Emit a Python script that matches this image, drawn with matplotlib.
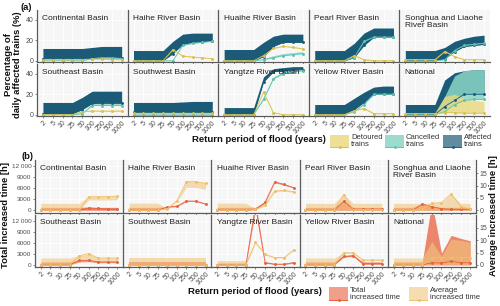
import matplotlib
matplotlib.use("Agg")
import matplotlib.pyplot as plt
import numpy as np

plt.rcParams["font.family"] = ["Liberation Sans", "DejaVu Sans"]

PERIODS = ["2", "5", "10", "25", "50", "100", "250", "500", "1000"]
BASINS = ["Continental Basin", "Haihe River Basin", "Huaihe River Basin",
          "Pearl River Basin", "Songhua and Liaohe\nRiver Basin",
          "Southeast Basin", "Southwest Basin", "Yangtze River Basin",
          "Yellow River Basin", "National"]

# (a) percentage of daily trains; line = lower edge of each band, *_HI = upper edge
AFF = [[2, 2, 2, 2, 2, 2.5, 3, 3, 3],
       [0, 0, 0, 0, 7, 16, 18, 18.5, 19.5],
       [0, 0, 0, 0, 4, 14, 18, 18, 18],
       [0, 0, 0, 0, 3, 15, 23, 23, 23],
       [0, 0, 0, 0, 2, 9, 14, 15, 16],
       [1, 1, 1, 1, 5, 11, 11, 11, 11],
       [3, 3, 3, 3, 3, 3, 3, 3, 3],
       [0, 0, 0, 0, 32, 42, 43, 44, 44],
       [0, 0, 0, 0, 5, 12, 20, 20, 20],
       [0, 0, 0, 0, 8, 14, 20, 20, 20]]
AFF_HI = [[12, 12, 12, 12, 12, 13, 14, 14, 14],
          [10, 10, 10, 10, 19, 26, 27, 27, 27],
          [11, 11, 11, 11, 18, 24, 26, 26, 26],
          [10, 10, 10, 10, 17, 27, 32, 32, 32],
          [10, 10, 10, 10, 13, 19, 22, 24, 25],
          [12, 12, 12, 12, 17, 23, 23, 23, 23],
          [12, 12, 12, 12, 12, 12.5, 13, 13, 13],
          [7, 7, 7, 7, 37, 45, 46, 47, 47],
          [10, 10, 10, 10, 16, 22, 27, 28, 28],
          [10, 10, 10, 10, 34, 41, 43, 44, 44]]
CAN = [[0, 0, 0, 0, 0, 2, 3, 3, 2],
       [0, 0, 0, 0, 0, 15, 17, 18, 19],
       [0, 0, 0, 0, 1, 3, 5, 6, 7],
       [0, 0, 0, 0, 3, 19, 23, 23, 23],
       [0, 0, 0, 0, 1, 10, 15, 16, 17],
       [0, 0, 0, 0, 1, 9, 9, 9, 9],
       [0, 0, 0, 0, 0, 0, 0, 0, 0],
       [0, 0, 0, 0, 15, 35, 40, 42, 43],
       [0, 0, 0, 0, 3, 10, 20, 20, 20],
       [0, 0, 0, 0, 3, 10, 14, 15, 15]]
CAN_HI = [[0, 0, 0, 0, 0.5, 3, 4, 4, 3.5],
          [0, 0, 0, 0, 0.5, 16, 18, 19, 20],
          [0, 0, 0, 0, 2, 5, 7, 8, 9],
          [0, 0, 0, 0, 4, 20, 24, 24, 24],
          [0, 0, 0, 0, 2, 11, 16, 17, 18],
          [0, 0, 0, 0, 2, 11, 12, 12, 12],
          [0.5, 0.5, 0.5, 0.5, 0.5, 0.5, 0.5, 0.5, 0.5],
          [0, 0, 0, 0, 17, 37, 42, 44, 45],
          [0, 0, 0, 0, 4, 11, 21, 21, 21],
          [0, 0, 0, 0, 18, 38, 43, 44, 44]]
DET = [[1, 1, 1, 1, 1, 1.5, 1.5, 1, 1],
       [0, 0, 0, 0, 11, 4.5, 3.5, 2.8, 2],
       [0, 0, 0, 0, 5, 12, 14, 13, 11.5],
       [0, 0, 0, 0, 5, 1, 0, 0, 0],
       [1, 1, 1, 1, 9, 4, 1, 1, 1],
       [0, 0, 0, 0, 3, 3.5, 3.5, 3.5, 3.5],
       [1.5, 1.5, 1.5, 1.5, 1.5, 1.5, 1.5, 1.5, 1.5],
       [0, 0, 0, 0, 22, 2, 0, 0, 0],
       [0, 0, 0, 0, 4, 6, 1, 1, 1],
       [1, 1, 1, 1, 2, 2, 1.5, 1.5, 1.5]]
DET_HI = [[2.5, 2.5, 2.5, 2.5, 2.5, 3, 3, 2.5, 2.5],
          [0.5, 0.5, 0.5, 0.5, 12, 5.5, 4.5, 3.5, 2.5],
          [0.5, 0.5, 0.5, 0.5, 6, 13, 15, 14, 12.5],
          [1, 1, 1, 1, 6, 2, 1, 1, 1],
          [2, 2, 2, 2, 10, 5, 2, 2, 2],
          [0.5, 0.5, 0.5, 0.5, 4, 4.5, 4.5, 4.5, 4.5],
          [3, 3, 3, 3, 3, 3, 3, 3, 3],
          [0.5, 0.5, 0.5, 0.5, 23, 3, 0.5, 0.5, 0.5],
          [0.5, 0.5, 0.5, 0.5, 5, 7, 2, 2, 2],
          [2, 2, 2, 2, 18, 20, 16, 14, 13]]

# (b) total increased time [h] (left axis) and average increased time [h] (right axis)
TOT = [[0, 0, 0, 0, 0, 600, 500, 300, 300],
       [0, 0, 0, 0, 900, 1100, 2500, 2500, 1700],
       [0, 0, 0, 0, 300, 2150, 7700, 7000, 6100],
       [0, 0, 0, 0, 2500, 300, 300, 300, 300],
       [0, 0, 0, 1700, 970, 430, 260, 260, 260],
       [0, 0, 0, 0, 1200, 1250, 800, 800, 800],
       [0, 0, 0, 0, 0, 0, 0, 0, 0],
       [0, 0, 0, 0, 16000, 640, 200, 200, 640],
       [0, 0, 0, 0, 2300, 2500, 300, 300, 300],
       [0, 0, 0, 0, 600, 500, 1000, 600, 600]]
TOT_LO = [[0, 0, 0, 0, 0, 0, 0, 0, 0],
          [0, 0, 0, 0, 800, 1000, 2400, 2400, 1600],
          [0, 0, 0, 0, 200, 2000, 7500, 6800, 6000],
          [0, 0, 0, 0, 0, 0, 0, 0, 0],
          [0, 0, 0, 0, 0, 0, 0, 0, 0],
          [0, 0, 0, 0, 800, 900, 600, 600, 600],
          [0, 0, 0, 0, 0, 0, 0, 0, 0],
          [0, 0, 0, 0, 15000, 500, 100, 100, 500],
          [0, 0, 0, 0, 2100, 2300, 200, 200, 200],
          [0, 0, 0, 0, 0, 0, 0, 0, 0]]
TOT_HI = [[800, 800, 800, 800, 800, 900, 800, 800, 800],
          [800, 800, 800, 800, 1000, 1200, 2600, 2600, 1800],
          [800, 800, 800, 800, 800, 2300, 7800, 7100, 6200],
          [800, 800, 800, 800, 2600, 800, 800, 800, 800],
          [800, 800, 800, 1800, 1100, 800, 800, 800, 800],
          [800, 800, 800, 800, 1400, 1400, 900, 900, 900],
          [800, 800, 800, 800, 800, 800, 800, 800, 800],
          [500, 500, 500, 500, 17000, 800, 300, 300, 800],
          [800, 800, 800, 800, 2500, 2700, 800, 800, 800],
          [800, 800, 800, 800, 17000, 3200, 8000, 7200, 6500]]
AVG = [[0, 0, 0, 0, 0, 5.5, 5.5, 5.6, 5.7],
       [0, 0, 0, 0, 0.6, 3.9, 11.6, 11.6, 10.9],
       [0, 0, 0, 0, 0.4, 2.1, 7.8, 8.1, 7.5],
       [0, 0, 0, 0, 6.4, 0.3, 0.3, 0.3, 0.3],
       [0, 0, 0, 0.5, 2.9, 3.1, 6.7, 1.5, 0.5],
       [0, 0, 0, 0, 3.7, 4.6, 2.8, 2.8, 2.8],
       [0, 0, 0, 0, 0, 0, 0, 0, 0],
       [0, 0, 0, 0, 9.1, 4.3, 3, 3, 6.2],
       [0, 0, 0, 0, 4.9, 4.9, 2, 2, 2],
       [0, 0, 0, 0, 3, 3, 3, 3, 3]]
AVG_LO = [[0, 0, 0, 0, 0, 4.2, 4.2, 4.2, 4.3],
          [0, 0, 0, 0, 0.3, 3.6, 9.3, 9.2, 8.5],
          [0, 0, 0, 0, 0.2, 1.9, 7.5, 7.8, 7.2],
          [0, 0, 0, 0, 0, 0, 0, 0, 0],
          [0, 0, 0, 0, 0, 0, 0, 0, 0],
          [0, 0, 0, 0, 1.5, 1.6, 1.2, 1.2, 1.2],
          [0, 0, 0, 0, 0, 0, 0, 0, 0],
          [0, 0, 0, 0, 8.8, 4, 2.8, 2.8, 6],
          [0, 0, 0, 0, 4.6, 4.6, 1.8, 1.8, 1.8],
          [0, 0, 0, 0, 0, 0, 0, 0, 0]]
AVG_HI = [[2.8, 2.8, 2.8, 2.8, 2.8, 5.6, 5.6, 5.7, 5.8],
          [2.9, 2.9, 2.9, 2.9, 0.8, 4.1, 11.8, 11.8, 11.2],
          [2.9, 2.9, 2.9, 2.9, 0.6, 2.3, 8, 8.3, 7.7],
          [2.8, 2.8, 2.8, 2.8, 6.4, 2.8, 2.8, 2.8, 2.8],
          [2.8, 2.8, 2.8, 2.8, 2.9, 3.1, 6.7, 2.8, 2.8],
          [2.8, 2.8, 2.8, 2.8, 3.7, 4.6, 2.8, 2.8, 2.8],
          [3, 3, 3, 3, 3, 3, 3, 3, 3],
          [1.8, 1.8, 1.8, 1.8, 9.3, 4.5, 3.2, 3.2, 6.4],
          [2.8, 2.8, 2.8, 2.8, 5, 5, 2.2, 2.2, 2.2],
          [2.8, 2.8, 2.8, 2.8, 9.5, 3.5, 10.5, 10, 9.2]]

K = 2000 / 3   # total hours per average hour (secondary axis)

C_DET, L_DET = "#e9d97c", "#d9c14c"
C_CAN, L_CAN = "#8ad6c7", "#5fc2ae"
C_AFF, L_AFF = "#1c5b78", "#1c5b78"
C_TOT, L_TOT = "#e8603c", "#e8603c"
C_AVG, L_AVG = "#f1c77e", "#efc06a"
TICK = dict(length=1.5, width=0.5, color="#5a5a5a", labelsize=5.0,
            labelcolor="#4d4d4d", pad=1)


def style(ax):
    ax.set_facecolor("#f6f6f6")
    ax.grid(color="white", lw=0.6)
    ax.set_axisbelow(True)
    for s in ("top", "right"):
        ax.spines[s].set_visible(False)
    for s in ("left", "bottom"):
        ax.spines[s].set_color("#5a5a5a")
        ax.spines[s].set_linewidth(0.9)
    ax.tick_params(**TICK)
    ax.set_xlim(-0.6, 8.6)
    ax.set_xticks(range(9))


def band(ax, x, lo, hi, line, fc, lc, alpha):
    ax.fill_between(x, lo, hi, color=fc, alpha=alpha, lw=0)
    ax.plot(x, line, color=lc, lw=0.6, marker="o", ms=1.1)


def xticks(ax, row):
    if row == 0:
        ax.tick_params(labelbottom=False)
    else:
        ax.set_xticklabels(PERIODS, rotation=45, ha="right", rotation_mode="anchor")


def title(ax, name):
    ax.text(0.06, 0.91, name, transform=ax.transAxes, va="top", ha="left",
            fontsize=6.0, color="#222222", linespacing=1.0)


def key(fig, rect, fc, lc, alpha):
    k = fig.add_axes(rect)
    k.set_xlim(0, 1); k.set_ylim(0, 1); k.axis("off")
    k.fill_between([0, 1], 0.12, 1, color=fc, alpha=alpha, lw=0)
    k.plot([0, 1], [0.12, 0.12], color=lc, lw=0.7)
    k.plot([0.5], [0.12], color=lc, marker="o", ms=1.1)


fig = plt.figure(figsize=(5, 3.06), dpi=100)
x = np.arange(9)

gsa = fig.add_gridspec(2, 5, left=0.074, right=0.98, top=0.967, bottom=0.621,
                       wspace=0, hspace=0.04)
for i, name in enumerate(BASINS):
    r, c = divmod(i, 5)
    ax = fig.add_subplot(gsa[r, c])
    style(ax)
    band(ax, x, AFF[i], AFF_HI[i], AFF[i], C_AFF, L_AFF, 1.0)
    band(ax, x, CAN[i], CAN_HI[i], CAN[i], C_CAN, L_CAN, 0.85)
    band(ax, x, DET[i], DET_HI[i], DET[i], C_DET, L_DET, 0.8)
    ax.set_ylim(-1.2, 49.5)
    ax.set_yticks([0, 20, 40])
    if c:
        ax.tick_params(labelleft=False, left=False)
    xticks(ax, r)
    title(ax, name)

gsb = fig.add_gridspec(2, 5, left=0.07, right=0.952, top=0.477, bottom=0.127,
                       wspace=0, hspace=0.04)
for i, name in enumerate(BASINS):
    r, c = divmod(i, 5)
    ax = fig.add_subplot(gsb[r, c])
    style(ax)
    band(ax, x, TOT_LO[i], TOT_HI[i], TOT[i], C_TOT, L_TOT, 0.75)
    band(ax, x, np.array(AVG_LO[i]) * K, np.array(AVG_HI[i]) * K,
         np.array(AVG[i]) * K, C_AVG, L_AVG, 0.6)
    ax.set_ylim(-600, 13600)
    ax.set_yticks([0, 3000, 6000, 9000, 12000])
    ax.set_yticklabels(["0", "3000", "6000", "9000", "12 000"])
    ax.tick_params(axis="y", labelsize=4.6)
    if c:
        ax.tick_params(labelleft=False, left=False)
    if c == 4:
        sec = ax.secondary_yaxis("right", functions=(lambda v: v / K, lambda v: v * K))
        sec.set_yticks([0, 5, 10, 15])
        sec.spines["right"].set_color("#5a5a5a")
        sec.spines["right"].set_linewidth(0.9)
        sec.tick_params(**TICK)
    xticks(ax, r)
    title(ax, name)

bold = dict(fontweight="bold", fontsize=6.8, color="#111111", ha="center", va="center")
fig.text(0.052, 0.977, "(a)", **bold)
fig.text(0.054, 0.49, "(b)", **bold)
fig.text(0.518, 0.5425, "Return period of flood (years)", **bold)
fig.text(0.51, 0.046, "Return period of flood (years)", **bold)
fig.text(0.026, 0.79, "Percentage of\ndaily affected trains (%)", rotation=90,
         linespacing=1.0, **bold)
fig.text(0.012, 0.297, "Total increased time [h]", rotation=90, **bold)
fig.text(0.988, 0.297, "Average increased time [h]", rotation=90, **bold)

# legends
lab = dict(fontsize=5.5, color="#333333", ha="left", va="center", linespacing=1.0)
key(fig, [0.66, 0.516, 0.038, 0.0425], C_DET, L_DET, 0.8)
fig.text(0.702, 0.538, "Detoured\ntrains", **lab)
key(fig, [0.77, 0.516, 0.038, 0.0425], C_CAN, L_CAN, 0.85)
fig.text(0.812, 0.538, "Cancelled\ntrains", **lab)
key(fig, [0.886, 0.516, 0.038, 0.0425], C_AFF, L_AFF, 0.7)
fig.text(0.928, 0.538, "Affected\ntrains", **lab)
key(fig, [0.658, 0.013, 0.038, 0.049], C_TOT, L_TOT, 0.6)
fig.text(0.70, 0.0376, "Total\nincreased time", **lab)
key(fig, [0.818, 0.013, 0.038, 0.049], C_AVG, L_AVG, 0.6)
fig.text(0.86, 0.0376, "Average\nincreased time", **lab)

fig.savefig("out.png", dpi=100)
